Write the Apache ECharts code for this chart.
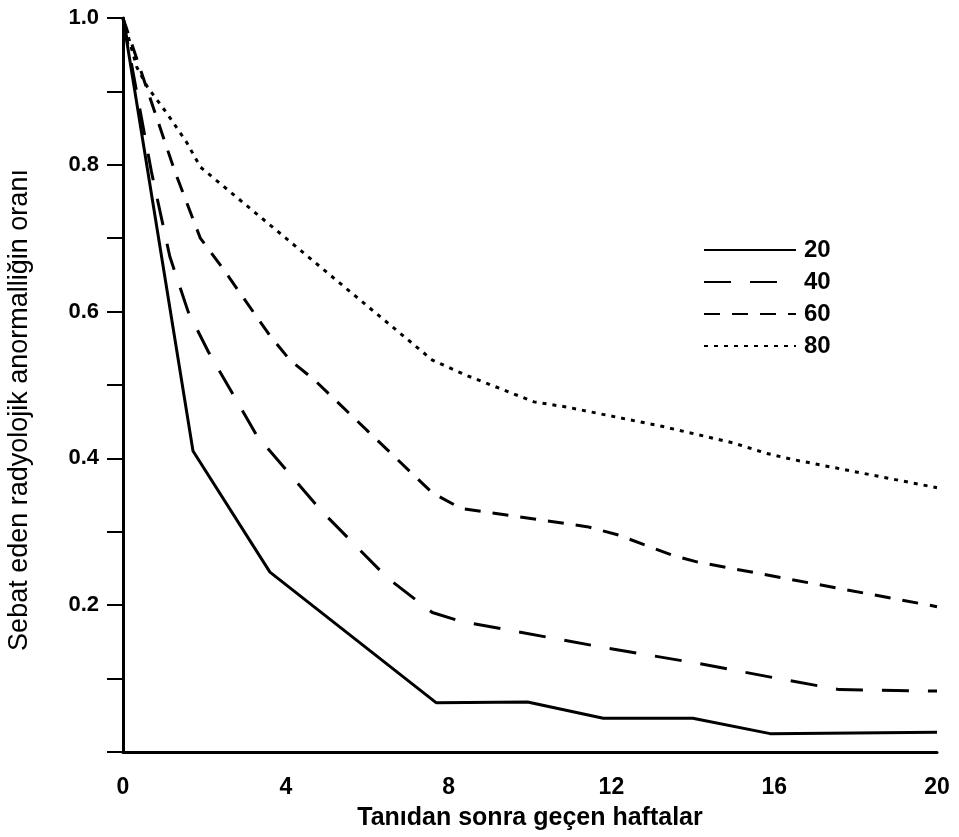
<!DOCTYPE html>
<html>
<head>
    <meta charset="utf-8" />
    <title>Sebat eden radyolojik anormallik</title>
    <script src="https://cdn.jsdelivr.net/npm/echarts@6/dist/echarts.min.js"></script>
    <style type="text/css">
        html,
        body {
            width: 100%;
            height: 100%;
            margin: 0;
            background: #fff;
        }

        #chart {
            width: 959px;
            height: 837px;
        }
    </style>
</head>

<body>
    <div id="chart"></div>
    <script>
        // 曲线数据（周, 比例）
        var weeks20 = [0, 1.72, 3.61, 7.7, 9.94, 11.8, 14.0, 15.9, 20];
        var vals20 = [1.0, 0.41, 0.245, 0.067, 0.068, 0.046, 0.046, 0.025, 0.027];

        var weeks40 = [0, 0.7, 1.15, 1.6, 2.1, 3.3, 4.9, 6.5, 7.6, 8.3, 11.75, 14.1, 16.3, 17.6, 20];
        var vals40 = [1.0, 0.79, 0.675, 0.60, 0.545, 0.43, 0.327, 0.237, 0.19, 0.178, 0.143, 0.121, 0.098, 0.085, 0.083];

        var weeks60 = [0, 1.28, 1.9, 2.45, 3.6, 4.1, 4.7, 7.6, 8.3, 11.4, 12.15, 13.5, 14.1, 20];
        var vals60 = [1.0, 0.79, 0.70, 0.659, 0.568, 0.534, 0.507, 0.353, 0.332, 0.307, 0.296, 0.268, 0.259, 0.198];

        var weeks80 = [0, 0.34, 0.6, 1.08, 1.57, 1.9, 7.6, 8.4, 10.1, 10.9, 13.3, 15.0, 15.8, 16.5, 20];
        var vals80 = [1.0, 0.933, 0.906, 0.87, 0.83, 0.797, 0.534, 0.514, 0.477, 0.47, 0.443, 0.421, 0.407, 0.398, 0.36];

        var seriesNames = ['20', '40', '60', '80'];
        var dashes = ['solid', [27, 19], [16, 12], [4, 6]];

        function pairs(xs, ys) {
            var out = [];
            for (var i = 0; i < xs.length; i++) {
                out.push([xs[i], ys[i]]);
            }
            return out;
        }

        var allData = [
            pairs(weeks20, vals20),
            pairs(weeks40, vals40),
            pairs(weeks60, vals60),
            pairs(weeks80, vals80)
        ];

        var fontName = '"Liberation Sans", Arial, sans-serif';

        var myChart = echarts.init(document.getElementById('chart'));
        var option = {
            animation: false,
            backgroundColor: '#fff',
            color: ['#000'],
            grid: {
                left: 123,
                right: 22,
                top: 18,
                bottom: 85,
                outerBoundsMode: 'none'
            },
            legend: {
                orient: 'vertical',
                left: 698,
                top: 233,
                itemWidth: 92,
                itemHeight: 20,
                itemGap: 8,
                itemStyle: { opacity: 0 },
                textStyle: {
                    color: '#000',
                    fontSize: 24,
                    fontWeight: 'bold',
                    fontFamily: fontName,
                    padding: [0, 0, 0, 3]
                },
                data: seriesNames
            },
            xAxis: {
                type: 'value',
                min: 0,
                max: 20,
                interval: 4,
                name: 'Tanıdan sonra geçen haftalar',
                nameLocation: 'middle',
                nameGap: 54,
                nameTextStyle: {
                    color: '#000',
                    fontSize: 25,
                    fontWeight: 'bold',
                    fontFamily: fontName
                },
                axisLine: { lineStyle: { color: '#000', width: 3 } },
                axisTick: { show: false },
                splitLine: { show: false },
                axisLabel: {
                    color: '#000',
                    fontSize: 23,
                    fontWeight: 'bold',
                    fontFamily: fontName,
                    margin: 24
                }
            },
            yAxis: {
                type: 'value',
                min: 0,
                max: 1,
                interval: 0.2,
                name: 'Sebat eden radyolojik anormalliğin oranı',
                nameLocation: 'middle',
                nameGap: 90,
                nameRotate: 90,
                nameTextStyle: {
                    color: '#000',
                    fontSize: 27,
                    fontFamily: fontName,
                    padding: [0, 50, 0, 0]
                },
                axisLine: { show: true, lineStyle: { color: '#000', width: 3 } },
                axisTick: { show: true, length: 16, lineStyle: { color: '#000', width: 2 } },
                minorTick: { show: true, splitNumber: 2, length: 16, lineStyle: { color: '#000', width: 2 } },
                splitLine: { show: false },
                axisLabel: {
                    color: '#000',
                    fontSize: 22,
                    fontWeight: 'bold',
                    fontFamily: fontName,
                    margin: 24,
                    formatter: function (v) {
                        return v === 0 ? '' : v.toFixed(1);
                    }
                }
            },
            series: seriesNames.map(function (n, i) {
                return {
                    name: n,
                    type: 'line',
                    symbol: 'none',
                    data: allData[i],
                    lineStyle: {
                        color: '#000',
                        width: 3,
                        type: dashes[i]
                    }
                };
            })
        };

        myChart.setOption(option);
    </script>
</body>
</html>
